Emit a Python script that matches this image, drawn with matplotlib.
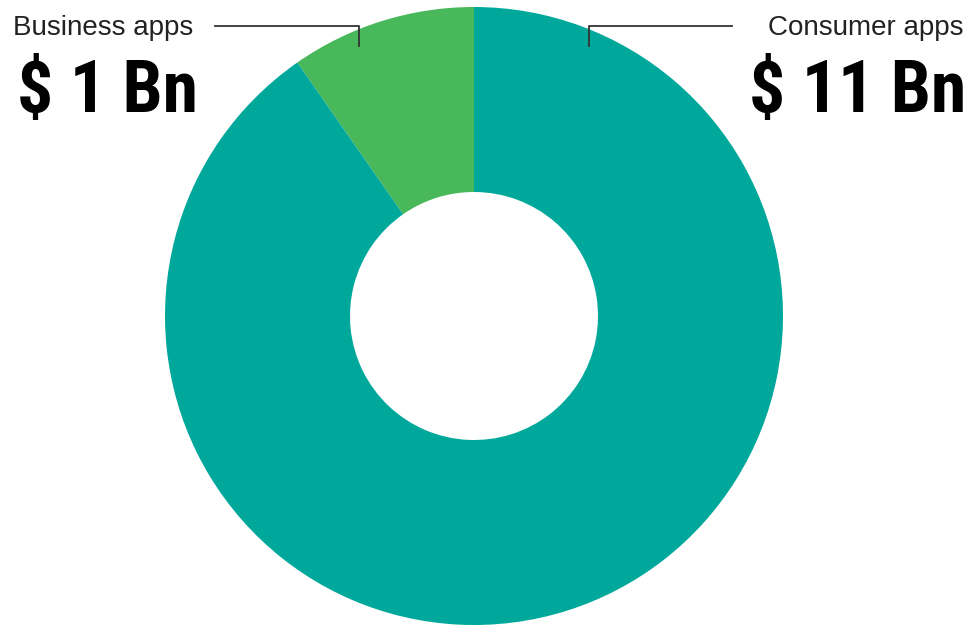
"""Donut chart: app revenue split."""

import matplotlib
matplotlib.use("Agg")
import matplotlib.pyplot as plt

# data
categories = ["Business apps", "Consumer apps"]
values = [1.18, 11]          # wedge sizes
value_labels = ["$ 1 Bn", "$ 11 Bn"]
colors = ["#48B85A", "#00A89C"]

W, H = 973, 626
CX, CY, R = 474, 316, 309    # donut centre and outer radius in pixels


def px(x, y):
    """Pixel (from top-left) to data coords."""
    return (x - CX) / R, (CY - y) / R


fig = plt.figure(figsize=(W / 100, H / 100), dpi=100)
ax = fig.add_axes([0, 0, 1, 1])
ax.pie(values, colors=colors, startangle=90, counterclock=True, radius=1,
       wedgeprops=dict(width=1 - 124 / 309, linewidth=0))
ax.set_xlim(-CX / R, (W - CX) / R)
ax.set_ylim(-(H - CY) / R, CY / R)
ax.set_aspect("equal")
ax.axis("off")

label_font = ["Liberation Sans", "DejaVu Sans"]
big_font = ["Roboto Condensed", "Archivo Narrow", "DejaVu Sans"]

# Business apps label + leader
ax.text(*px(13, 35), categories[0], ha="left", va="baseline", fontsize=20,
        color="#222222", family=label_font)
ax.text(*px(17, 112), value_labels[0], ha="left", va="baseline", fontsize=51.5,
        fontweight="bold", color="black", family=big_font)
xs, ys = zip(px(215, 26), px(359, 26), px(359, 46))
ax.plot(xs, ys, color="#333333", lw=1.3)

# Consumer apps label + leader
ax.text(*px(963, 35), categories[1], ha="right", va="baseline", fontsize=20,
        color="#222222", family=label_font)
ax.text(*px(966, 112), value_labels[1], ha="right", va="baseline", fontsize=51.5,
        fontweight="bold", color="black", family=big_font)
xs, ys = zip(px(732, 26), px(589, 26), px(589, 46))
ax.plot(xs, ys, color="#333333", lw=1.3)

fig.savefig("out.png", dpi=100, facecolor="white")
